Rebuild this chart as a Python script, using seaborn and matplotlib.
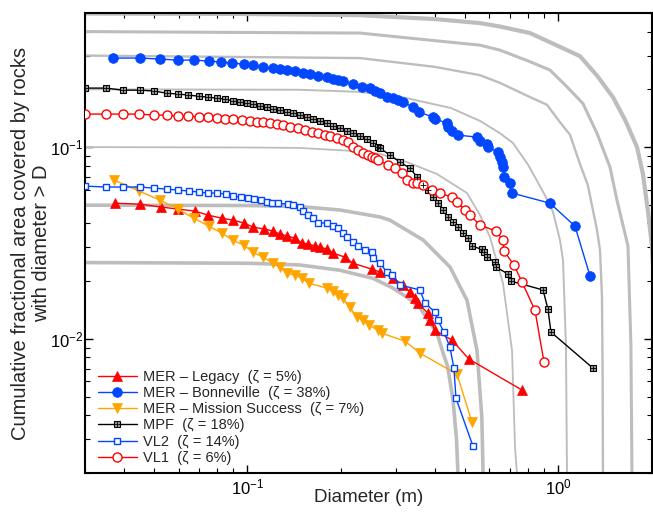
import matplotlib
matplotlib.use("Agg")
import matplotlib.pyplot as plt
import seaborn as sns
from matplotlib.ticker import NullFormatter
from matplotlib.legend_handler import HandlerTuple

# Model curves (grey): diameter (m) and cumulative area
model_050_d = [0.03, 0.10, 0.23, 0.40, 0.559, 0.649, 0.81, 1.011, 1.172, 1.33, 1.497, 1.64, 1.789, 1.87, 1.941, 2.0, 2.06]
model_050_f = [0.497, 0.494, 0.487, 0.465, 0.443, 0.425, 0.393, 0.333, 0.298, 0.236, 0.182, 0.138, 0.100, 0.072, 0.046, 0.030, 0.012]
model_040_d = [0.03, 0.23, 0.45, 0.559, 0.649, 0.80, 0.939, 1.05, 1.198, 1.33, 1.464, 1.542, 1.673, 1.71, 1.723]
model_040_f = [0.40, 0.393, 0.352, 0.340, 0.320, 0.281, 0.252, 0.211, 0.169, 0.118, 0.0787, 0.0529, 0.0305, 0.0092, 0.002]
model_030_d = [0.03, 0.23, 0.40, 0.559, 0.649, 0.80, 0.919, 1.00, 1.089, 1.17, 1.243, 1.33, 1.36, 1.38, 1.387, 1.39]
model_030_f = [0.30, 0.291, 0.262, 0.237, 0.216, 0.184, 0.166, 0.138, 0.116, 0.0825, 0.0633, 0.037, 0.029, 0.0167, 0.006, 0.002]
model_020_d = [0.03, 0.147, 0.23, 0.31, 0.45, 0.559, 0.649, 0.714, 0.80, 0.905, 0.96, 1.011, 1.034, 1.057, 1.065]
model_020_f = [0.200, 0.199, 0.194, 0.183, 0.160, 0.137, 0.118, 0.105, 0.0805, 0.056, 0.046, 0.0328, 0.0258, 0.0092, 0.002]
model_010_d = [0.03, 0.10, 0.147, 0.23, 0.267, 0.326, 0.407, 0.508, 0.56, 0.602, 0.663, 0.709, 0.725, 0.735]
model_010_f = [0.100, 0.0995, 0.099, 0.095, 0.092, 0.0835, 0.0723, 0.0576, 0.044, 0.034, 0.0195, 0.0087, 0.0027, 0.002]
model_005_d = [0.03, 0.10, 0.147, 0.198, 0.267, 0.287, 0.367, 0.448, 0.508, 0.547, 0.567, 0.572]
model_005_f = [0.0498, 0.0496, 0.049, 0.047, 0.0432, 0.0416, 0.0328, 0.0237, 0.0159, 0.0087, 0.0039, 0.002]
model_0025_d = [0.03, 0.10, 0.147, 0.198, 0.253, 0.29, 0.326, 0.358, 0.386, 0.407, 0.425, 0.44, 0.458, 0.47, 0.475]
model_0025_f = [0.0250, 0.0248, 0.0243, 0.0228, 0.0207, 0.0186, 0.0165, 0.0146, 0.0121, 0.0107, 0.0085, 0.0072, 0.0048, 0.003, 0.002]

# Landing-site measurements
legacy_d = [0.0375, 0.0451, 0.0527, 0.0597, 0.0677, 0.0746, 0.0827, 0.0897, 0.0974, 0.1041, 0.1129, 0.1207,
            0.1271, 0.1339, 0.1421, 0.1496, 0.1564, 0.1647, 0.1710, 0.1801, 0.1882, 0.2057, 0.2183, 0.2513,
            0.2666, 0.2935, 0.3161, 0.3329, 0.3455, 0.3533, 0.3803, 0.3861, 0.4007, 0.4543, 0.5154, 0.7632]
legacy_f = [0.0510, 0.0504, 0.0487, 0.0475, 0.0464, 0.0442, 0.0426, 0.0416, 0.0402, 0.0383, 0.0374, 0.0365,
            0.0352, 0.0344, 0.0335, 0.0316, 0.0312, 0.0305, 0.0301, 0.0294, 0.0280, 0.0267, 0.0248, 0.0231,
            0.0223, 0.0208, 0.0191, 0.0175, 0.0163, 0.0154, 0.0136, 0.0125, 0.0111, 0.00986, 0.00785, 0.00541]

bonneville_d = [0.0369, 0.0451, 0.0523, 0.0597, 0.0672, 0.0751, 0.0821, 0.0891, 0.0974, 0.1041, 0.1121, 0.1207,
                0.1271, 0.1339, 0.1421, 0.1507, 0.1587, 0.1684, 0.1801, 0.1882, 0.1953, 0.2026, 0.2183, 0.2333,
                0.2475, 0.2569, 0.2666, 0.2808, 0.2935, 0.3046, 0.3161, 0.3404, 0.3559, 0.3948, 0.4007, 0.4379,
                0.4411, 0.4543, 0.4750, 0.5466, 0.5592, 0.5888, 0.5932, 0.6388, 0.6484, 0.6581, 0.6631, 0.6680,
                0.6982, 0.7086, 0.9389, 1.130, 1.263]
bonneville_f = [0.2911, 0.2911, 0.2876, 0.2841, 0.2841, 0.2808, 0.2774, 0.2741, 0.2708, 0.2676, 0.2613, 0.2582,
                0.2551, 0.2521, 0.2491, 0.2431, 0.2402, 0.2345, 0.2317, 0.2262, 0.2235, 0.2208, 0.2130, 0.2055,
                0.2030, 0.1959, 0.1912, 0.1822, 0.1800, 0.1758, 0.1716, 0.1616, 0.1522, 0.1434, 0.1400, 0.1334,
                0.1271, 0.1212, 0.1155, 0.1127, 0.1075, 0.1036, 0.1000, 0.0942, 0.0887, 0.0835, 0.0787, 0.0698,
                0.0649, 0.0576, 0.0510, 0.0387, 0.0213]

mission_d = [0.0372, 0.0448, 0.0523, 0.0597, 0.0672, 0.0751, 0.0827, 0.0897, 0.0974, 0.1041, 0.1121, 0.1207,
             0.1271, 0.1339, 0.1421, 0.1496, 0.1576, 0.1801, 0.1882, 0.1953, 0.2026, 0.2135, 0.2248, 0.2350,
             0.2457, 0.2627, 0.2706, 0.3208, 0.3584, 0.4716, 0.5270]
mission_f = [0.0673, 0.0590, 0.0529, 0.0475, 0.0426, 0.0387, 0.0356, 0.0327, 0.0308, 0.0283, 0.0267, 0.0248,
             0.0237, 0.0220, 0.0215, 0.0207, 0.0195, 0.0184, 0.0177, 0.0169, 0.0163, 0.0146, 0.0130, 0.0125,
             0.0118, 0.0111, 0.0107, 0.00974, 0.00843, 0.00655, 0.00368]

mpf_d = [0.0300, 0.0351, 0.0397, 0.0451, 0.0500, 0.0550, 0.0597, 0.0643, 0.0698, 0.0746, 0.0797, 0.0846,
         0.0897, 0.0945, 0.0996, 0.1041, 0.1096, 0.1154, 0.1207, 0.1271, 0.1339, 0.1400, 0.1474, 0.1552,
         0.1623, 0.1710, 0.1801, 0.1882, 0.1982, 0.2088, 0.2183, 0.2299, 0.2421, 0.2531, 0.2627, 0.2666,
         0.2871, 0.3091, 0.333, 0.351, 0.367, 0.380, 0.395, 0.410, 0.425, 0.441, 0.458, 0.475, 0.493, 0.512,
         0.527, 0.567, 0.576, 0.589, 0.625, 0.630, 0.688, 0.703, 0.892, 0.925, 0.946, 1.291]
mpf_f = [0.203, 0.203, 0.198, 0.198, 0.196, 0.191, 0.189, 0.187, 0.184, 0.182, 0.180, 0.178,
         0.174, 0.172, 0.170, 0.168, 0.164, 0.162, 0.158, 0.156, 0.152, 0.150, 0.147, 0.143,
         0.140, 0.137, 0.133, 0.129, 0.126, 0.121, 0.118, 0.114, 0.110, 0.105, 0.100, 0.0988,
         0.0908, 0.0835, 0.0777, 0.0698, 0.0634, 0.0597, 0.0548, 0.0510, 0.0469, 0.0431, 0.0406, 0.0383,
         0.0356, 0.0335, 0.0305, 0.0293, 0.0283, 0.0267, 0.0251, 0.0237, 0.0218, 0.0200, 0.0180, 0.0143,
         0.01085, 0.00704]

vl2_d = [0.0300, 0.0351, 0.0397, 0.0451, 0.0500, 0.0550, 0.0597, 0.0648, 0.0698, 0.0746, 0.0797, 0.0852,
         0.0897, 0.0953, 0.1003, 0.1049, 0.1104, 0.1154, 0.1198, 0.1252, 0.1349, 0.1400, 0.1474, 0.1507,
         0.1564, 0.1623, 0.1684, 0.1801, 0.1882, 0.1953, 0.2026, 0.2088, 0.2183, 0.2265, 0.2385, 0.2513,
         0.2531, 0.2666, 0.2808, 0.2914, 0.3091, 0.3584, 0.3719, 0.4007, 0.4097, 0.4283, 0.4477, 0.4612,
         0.4681, 0.5309]
vl2_f = [0.0626, 0.0619, 0.0619, 0.0619, 0.0611, 0.0604, 0.0597, 0.0590, 0.0583, 0.0576, 0.0576, 0.0569,
         0.0555, 0.0548, 0.0542, 0.0536, 0.0529, 0.0516, 0.0510, 0.0510, 0.0504, 0.0498, 0.0487, 0.0464,
         0.0442, 0.0426, 0.0402, 0.0402, 0.0387, 0.0378, 0.0356, 0.0340, 0.0320, 0.0305, 0.0290, 0.0283,
         0.0264, 0.0248, 0.0223, 0.0215, 0.0191, 0.0180, 0.0154, 0.0138, 0.0125, 0.01085, 0.00906, 0.00704,
         0.00491, 0.00276]

vl1_d = [0.0300, 0.0351, 0.0397, 0.0448, 0.0500, 0.0550, 0.0597, 0.0643, 0.0698, 0.0746, 0.0797, 0.0846,
         0.0897, 0.0959, 0.1018, 0.1072, 0.1121, 0.1180, 0.1243, 0.1300, 0.1369, 0.1453, 0.1530, 0.1611,
         0.1684, 0.1774, 0.1841, 0.1939, 0.2026, 0.2103, 0.2183, 0.2265, 0.2350, 0.2439, 0.2513, 0.2569,
         0.2627, 0.2829, 0.2979, 0.3138, 0.3257, 0.3404, 0.3507, 0.3666, 0.3918, 0.4158, 0.4543, 0.4716,
         0.5004, 0.5193, 0.5592, 0.6295, 0.6631, 0.6680, 0.7193, 0.7632, 0.8403, 0.8984]
vl1_f = [0.1486, 0.1486, 0.1486, 0.1486, 0.1468, 0.1468, 0.1451, 0.1451, 0.1434, 0.1434, 0.1417, 0.1400,
         0.1400, 0.1383, 0.1367, 0.1350, 0.1350, 0.1334, 0.1318, 0.1302, 0.1271, 0.1256, 0.1227, 0.1198,
         0.1183, 0.1155, 0.1141, 0.1114, 0.1088, 0.1062, 0.1000, 0.0965, 0.0930, 0.0908, 0.0887, 0.0877,
         0.0856, 0.0806, 0.0777, 0.0732, 0.0673, 0.0649, 0.0649, 0.0634, 0.0597, 0.0576, 0.0548, 0.0516,
         0.0469, 0.0442, 0.0392, 0.0365, 0.0327, 0.0287, 0.0243, 0.0198, 0.0141, 0.00757]

labels = [
    "MER \u2013 Legacy  (\u03b6 = 5%)",
    "MER \u2013 Bonneville  (\u03b6 = 38%)",
    "MER \u2013 Mission Success  (\u03b6 = 7%)",
    "MPF  (\u03b6 = 18%)",
    "VL2  (\u03b6 = 14%)",
    "VL1  (\u03b6 = 6%)",
]

sns.set_theme(style="ticks")
plt.rcParams["font.family"] = ["Liberation Sans", "DejaVu Sans"]
plt.rcParams["mathtext.fontset"] = "custom"
plt.rcParams["mathtext.rm"] = "Liberation Sans"

fig = plt.figure(figsize=(6.53, 5.12), dpi=100)
ax = fig.add_axes([0.130, 0.0762, 0.8686, 0.8984])
ax.set_xscale("log")
ax.set_yscale("log")

grey = "#bdbdbd"
models = [
    (model_050_d, model_050_f, 3.0),
    (model_040_d, model_040_f, 2.2),
    (model_030_d, model_030_f, 1.7),
    (model_020_d, model_020_f, 1.4),
    (model_010_d, model_010_f, 1.3),
    (model_005_d, model_005_f, 2.6),
    (model_0025_d, model_0025_f, 2.6),
]
for d, f, lw in models:
    sns.lineplot(x=d, y=f, ax=ax, color=grey, lw=lw, estimator=None, sort=False, zorder=1)

common = dict(ax=ax, estimator=None, sort=False, lw=1.0, zorder=3)

sns.lineplot(x=legacy_d, y=legacy_f, color="#ff0000", marker="^", ms=7, mfc="#ff0000", mec="#ff0000", mew=0.5, **common)
h_legacy = ax.lines[-1]
sns.lineplot(x=bonneville_d, y=bonneville_f, color="#0047ff", marker="o", ms=7, mfc="#0047ff", mec="#0047ff", mew=0.5, **common)
h_bonn = ax.lines[-1]
sns.lineplot(x=mission_d, y=mission_f, color="#ffa500", marker="v", ms=7, mfc="#ffa500", mec="#ffa500", mew=0.5, **common)
h_miss = ax.lines[-1]
sns.lineplot(x=mpf_d, y=mpf_f, color="black", marker="s", ms=4.8, mfc="#9a9a9a", mec="black", mew=0.8, **common)
h_mpf = ax.lines[-1]
sns.lineplot(x=mpf_d, y=mpf_f, color="black", lw=0, marker="+", ms=4.8, mec="black", mew=0.6,
             ax=ax, estimator=None, sort=False, zorder=4)
h_mpf_plus = ax.lines[-1]
sns.lineplot(x=vl2_d, y=vl2_f, color="#0047ff", marker="s", ms=5, mfc="white", mec="#0047ff", mew=1.0, **common)
h_vl2 = ax.lines[-1]
sns.lineplot(x=vl1_d, y=vl1_f, color="#ff0000", marker="o", ms=6.5, mfc="white", mec="#ff0000", mew=1.0, **common)
h_vl1 = ax.lines[-1]

ax.set_xlim(0.03, 2)
ax.set_ylim(0.002, 0.5)

ax.tick_params(which="both", direction="in", top=True, right=True, colors="black", labelsize=12)
ax.tick_params(which="major", length=6, width=1.0)
ax.tick_params(which="minor", length=3.5, width=0.8)
ax.tick_params(axis="x", which="major", pad=3)
ax.tick_params(axis="y", which="major", pad=1)
ax.xaxis.set_minor_formatter(NullFormatter())
ax.yaxis.set_minor_formatter(NullFormatter())
for sp in ax.spines.values():
    sp.set_color("black")
    sp.set_linewidth(1.5)

ax.set_xlabel("Diameter (m)", fontsize=13.5, va="top")
ax.xaxis.set_label_coords(0.5, -0.034)
ax.set_ylabel("Cumulative fractional area covered by rocks\nwith diameter > D", fontsize=14.5,
              labelpad=-1, linespacing=1.15)

handles = [h_legacy, h_bonn, h_miss, (h_mpf, h_mpf_plus), h_vl2, h_vl1]
leg = ax.legend(handles, labels, loc="lower left", bbox_to_anchor=(0.012, 0.005), frameon=False,
                fontsize=10.5, handlelength=2.7, handletextpad=0.4, labelspacing=0.15, borderaxespad=0,
                handler_map={tuple: HandlerTuple(ndivide=1)})

fig.savefig("out.png", dpi=100)
